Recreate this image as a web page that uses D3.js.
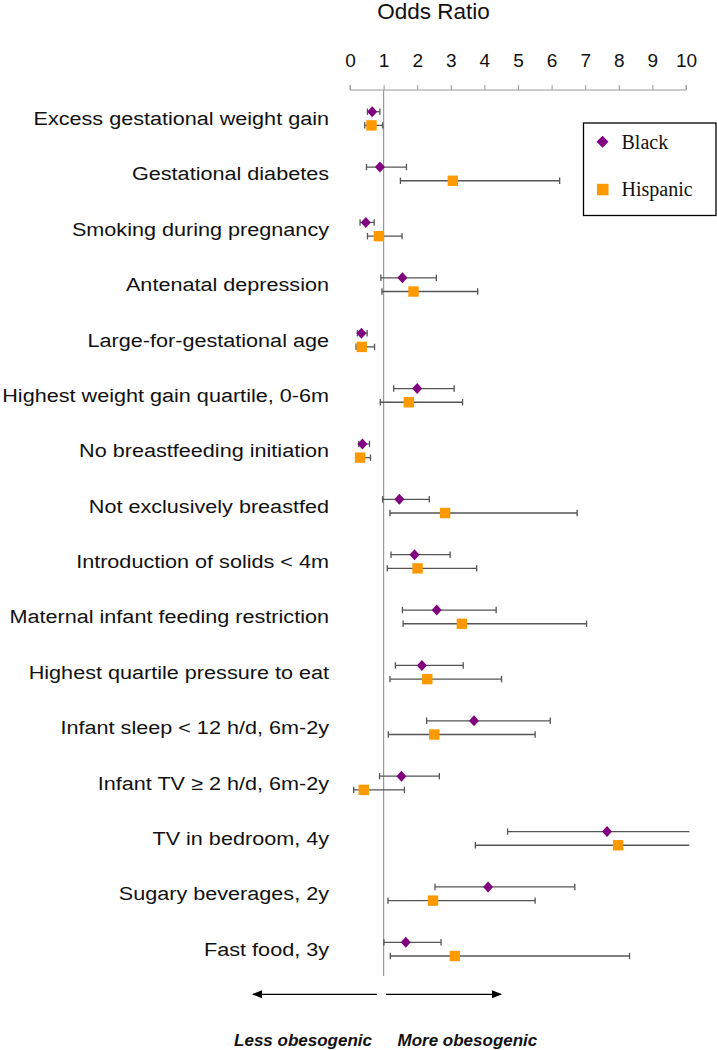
<!DOCTYPE html>
<html>
<head>
<meta charset="utf-8">
<script src="https://cdn.jsdelivr.net/npm/d3@7"></script>
<style>
  html, body { margin: 0; padding: 0; background: #fff; }
  svg { display: block; }
</style>
</head>
<body>
<svg id="chart" width="717" height="1050"></svg>
<script>
const categories = [
  "Excess gestational weight gain",
  "Gestational diabetes",
  "Smoking during pregnancy",
  "Antenatal depression",
  "Large-for-gestational age",
  "Highest weight gain quartile, 0-6m",
  "No breastfeeding initiation",
  "Not exclusively breastfed",
  "Introduction of solids < 4m",
  "Maternal infant feeding restriction",
  "Highest quartile pressure to eat",
  "Infant sleep < 12 h/d, 6m-2y",
  "Infant TV \u2265 2 h/d, 6m-2y",
  "TV in bedroom, 4y",
  "Sugary beverages, 2y",
  "Fast food, 3y"
];
const blackOR = [0.66, 0.89, 0.47, 1.56, 0.34, 2.00, 0.37, 1.47, 1.92, 2.58, 2.14, 3.69, 1.53, 7.65, 4.11, 1.66];
const blackLo = [0.52, 0.49, 0.30, 0.92, 0.22, 1.30, 0.26, 0.97, 1.22, 1.56, 1.35, 2.28, 0.88, 4.69, 2.53, 1.01];
const blackHi = [0.89, 1.68, 0.72, 2.57, 0.51, 3.10, 0.58, 2.36, 2.98, 4.35, 3.37, 5.96, 2.66, 10.1, 6.69, 2.71];
const hispOR  = [0.64, 3.06, 0.86, 1.89, 0.35, 1.75, 0.30, 2.83, 2.01, 3.33, 2.30, 2.51, 0.41, 7.98, 2.47, 3.12];
const hispLo  = [0.44, 1.50, 0.52, 0.95, 0.18, 0.90, 0.17, 1.19, 1.11, 1.58, 1.19, 1.14, 0.11, 3.73, 1.13, 1.20];
const hispHi  = [0.97, 6.24, 1.55, 3.80, 0.73, 3.35, 0.61, 6.76, 3.77, 7.04, 4.51, 5.51, 1.62, 10.1, 5.51, 8.32];
const tickValues = [0, 1, 2, 3, 4, 5, 6, 7, 8, 9, 10];
const seriesNames = ["Black", "Hispanic"];
const axisTitle = "Odds Ratio";
const leftNote = "Less obesogenic";
const rightNote = "More obesogenic";

const svg = d3.select("#chart");
const purple = "#800080", orange = "#FF9900", barColor = "#555555", gridGray = "#9a9a9a";

const x = d3.scaleLinear().domain([0, 10]).range([350, 686]);
const rowY = d3.scalePoint().domain(categories).range([111.7, 942.3]);
const off = 13.7;

// Title
svg.append("text").attr("x", 433.5).attr("y", 18.5).attr("text-anchor", "middle")
  .attr("font-family", "Liberation Sans, Arial, sans-serif").attr("font-size", 22.5)
  .attr("fill", "#111").text(axisTitle);

// Axis
const axisG = svg.append("g").attr("transform", "translate(0,90)");
axisG.call(d3.axisTop(x).tickValues(tickValues).tickSize(5).tickPadding(0).tickFormat(d3.format("d")));
axisG.select(".domain").attr("stroke", gridGray).attr("d", `M${x(0)},-5V0H${x(10)}V-5`);
axisG.selectAll(".tick line").attr("stroke", gridGray);
axisG.selectAll(".tick text").attr("y", -23.5).attr("font-size", 19)
  .attr("font-family", "Liberation Sans, Arial, sans-serif").attr("fill", "#111");

// Reference line at OR = 1
svg.append("line").attr("x1", x(1)).attr("x2", x(1)).attr("y1", 90).attr("y2", 976)
  .attr("stroke", gridGray).attr("stroke-width", 1.2);

// Category labels (horizontally stretched as in the source)
const sx = 1.15;
svg.append("g").selectAll("text").data(categories).join("text")
  .attr("transform", d => `translate(329,${rowY(d) + off / 2}) scale(${sx},1)`)
  .attr("text-anchor", "end").attr("dominant-baseline", "central")
  .attr("font-family", "Liberation Sans, Arial, sans-serif").attr("font-size", 18.8)
  .attr("fill", "#111").text(d => d);

// Error bars
function drawSeries(orArr, loArr, hiArr, dy) {
  const g = svg.append("g");
  categories.forEach((c, i) => {
    const y = rowY(c) + dy;
    const hi = Math.min(hiArr[i], 10.12);
    g.append("line").attr("x1", x(loArr[i])).attr("x2", x(hi)).attr("y1", y).attr("y2", y)
      .attr("stroke", barColor).attr("stroke-width", 1.3);
    g.append("line").attr("x1", x(loArr[i])).attr("x2", x(loArr[i])).attr("y1", y - 3.2).attr("y2", y + 3.2)
      .attr("stroke", barColor).attr("stroke-width", 1.3);
    if (hiArr[i] <= 10) {
      g.append("line").attr("x1", x(hiArr[i])).attr("x2", x(hiArr[i])).attr("y1", y - 3.2).attr("y2", y + 3.2)
        .attr("stroke", barColor).attr("stroke-width", 1.3);
    }
  });
  return g;
}
drawSeries(blackOR, blackLo, blackHi, 0);
drawSeries(hispOR, hispLo, hispHi, off);

const diamond = (w, h) => `M0,${-h/2}L${w/2},0L0,${h/2}L${-w/2},0Z`;

svg.append("g").selectAll("path").data(categories).join("path")
  .attr("transform", (d, i) => `translate(${x(blackOR[i])},${rowY(d)})`)
  .attr("d", diamond(10, 11)).attr("fill", purple);

svg.append("g").selectAll("rect").data(categories).join("rect")
  .attr("x", (d, i) => x(hispOR[i]) - 5.2).attr("y", d => rowY(d) + off - 5.2)
  .attr("width", 10.4).attr("height", 10.4).attr("fill", orange);

// Legend
const lg = svg.append("g");
lg.append("rect").attr("x", 583.5).attr("y", 123).attr("width", 132.5).attr("height", 92.5)
  .attr("fill", "#fff").attr("stroke", "#000").attr("stroke-width", 1.3);
lg.append("path").attr("transform", "translate(602.5,141.7)").attr("d", diamond(12, 12)).attr("fill", purple);
lg.append("rect").attr("x", 597).attr("y", 183.8).attr("width", 11.5).attr("height", 11.5).attr("fill", orange);
lg.selectAll("text").data(seriesNames).join("text")
  .attr("x", 621.5).attr("y", (d, i) => i === 0 ? 141.7 : 189.3).attr("dominant-baseline", "central")
  .attr("font-family", "Liberation Serif, Times New Roman, serif").attr("font-size", 20)
  .attr("fill", "#111").text(d => d);

// Bottom arrows
const defs = svg.append("defs");
defs.append("marker").attr("id", "ah").attr("viewBox", "0 0 10 10").attr("refX", 9).attr("refY", 5)
  .attr("markerWidth", 10).attr("markerHeight", 10).attr("markerUnits", "userSpaceOnUse")
  .attr("orient", "auto")
  .append("path").attr("d", "M0,1L10,5L0,9Z").attr("fill", "#000");
svg.append("line").attr("x1", 377).attr("x2", 253).attr("y1", 994.3).attr("y2", 994.3)
  .attr("stroke", "#000").attr("stroke-width", 1.3).attr("marker-end", "url(#ah)");
svg.append("line").attr("x1", 386).attr("x2", 501).attr("y1", 994.3).attr("y2", 994.3)
  .attr("stroke", "#000").attr("stroke-width", 1.3).attr("marker-end", "url(#ah)");

svg.append("text").attr("x", 372).attr("y", 1046).attr("text-anchor", "end")
  .attr("font-family", "Liberation Sans, Arial, sans-serif").attr("font-size", 17)
  .attr("font-weight", "bold").attr("font-style", "italic").attr("fill", "#111").text(leftNote);
svg.append("text").attr("x", 397.5).attr("y", 1046).attr("text-anchor", "start")
  .attr("font-family", "Liberation Sans, Arial, sans-serif").attr("font-size", 17)
  .attr("font-weight", "bold").attr("font-style", "italic").attr("fill", "#111").text(rightNote);
</script>
</body>
</html>
